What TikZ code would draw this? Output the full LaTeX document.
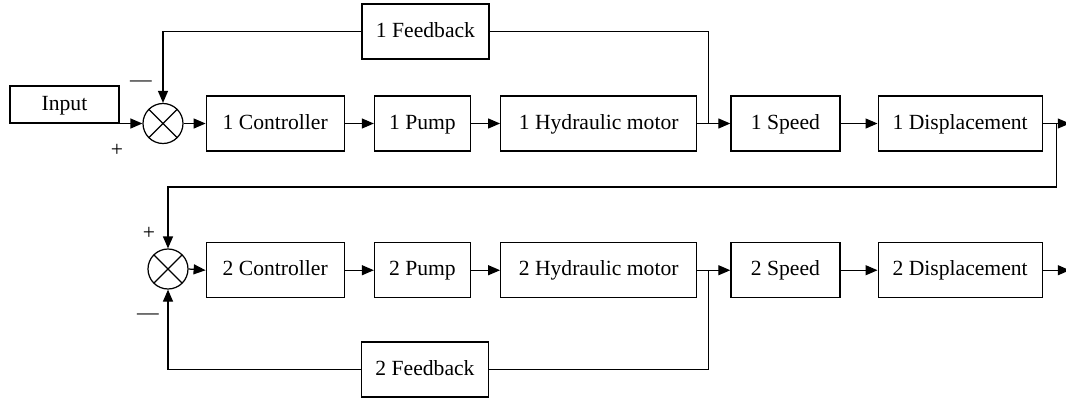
\documentclass[tikz,border=0pt]{standalone}
\usepackage{fontspec}
\setmainfont{Liberation Serif}
\usetikzlibrary{positioning, calc, arrows.meta}

\begin{document}
\begin{tikzpicture}[
    block/.style={rectangle, draw, line width=0.7pt, minimum height=1.10cm,
                  inner sep=2pt, align=center, text height=1.9ex, text depth=0.5ex,
                  font=\fontsize{12.3}{14}\selectfont},
    sumjunc/.style={circle, draw, line width=0.7pt, minimum size=0.8cm, inner sep=0pt,
                    path picture={\draw[line width=0.7pt]
                      (path picture bounding box.north west) -- (path picture bounding box.south east)
                      (path picture bounding box.north east) -- (path picture bounding box.south west);}},
    sgn/.style={inner sep=0pt, font=\fontsize{12.3}{14}\selectfont},
    arr/.style={-{Triangle[length=2.4mm, width=2mm]}, line width=0.7pt},
    wire/.style={line width=0.7pt},
  ]
    \useasboundingbox (0,0) rectangle (21.32,-7.96);

    % Row 1: first loop
    \node[sumjunc] (S1) at (3.26,-2.47) {};
    \node[block, minimum width=2.76cm, right=0.44cm of S1] (C1) {1 Controller};
    \node[block, minimum width=1.92cm, right=0.58cm of C1] (P1) {1 Pump};
    \node[block, minimum width=3.92cm, right=0.58cm of P1] (M1) {1 Hydraulic motor};
    \node[block, minimum width=2.18cm, right=0.66cm of M1] (V1) {1 Speed};
    \node[block, minimum width=3.28cm, right=0.74cm of V1] (D1) {1 Displacement};
    \node[block, minimum width=2.54cm] (F1) at (8.51,-0.63) {1 Feedback};
    \node[block, minimum width=2.18cm, minimum height=0.74cm] (IN) at (1.29,-2.09) {Input};

    % Row 2: second loop
    \node[sumjunc] (S2) at (3.36,-5.38) {};
    \node[block, minimum width=2.76cm, below=1.81cm of C1] (C2) {2 Controller};
    \node[block, minimum width=1.92cm, below=1.81cm of P1] (P2) {2 Pump};
    \node[block, minimum width=3.92cm, below=1.81cm of M1] (M2) {2 Hydraulic motor};
    \node[block, minimum width=2.18cm, below=1.81cm of V1] (V2) {2 Speed};
    \node[block, minimum width=3.28cm, below=1.81cm of D1] (D2) {2 Displacement};
    \node[block, minimum width=2.54cm] (F2) at (8.50,-7.39) {2 Feedback};

    % Signs at the summing points
    \node[sgn] (S1minus) at (2.82,-1.68) {\textemdash};
    \node[sgn] (S1plus) at (2.34,-3.00) {+};
    \node[sgn] (S2plus) at (2.98,-4.66) {+};
    \node[sgn] (S2minus) at (2.96,-6.34) {\textemdash};

    % Branch points
    \coordinate (J1) at ($(M1.east)!0.34!(V1.west)$);
    \coordinate (J2) at ($(M2.east)!0.34!(V2.west)$);
    \coordinate (B1) at ($(D1.east)+(0.28,0)$);
    \coordinate (O1) at ($(D1.east)+(0.54,0)$);
    \coordinate (O2) at ($(D2.east)+(0.54,0)$);
    \coordinate (R1) at ($(B1)+(0,-1.27)$);

    % Forward paths
    \draw[arr] (IN.south west |- S1.west) -- (S1.west);
    \foreach \i in {1,2} {
      \draw[arr] (S\i.east) -- (C\i.west);
      \draw[arr] (C\i.east) -- (P\i.west);
      \draw[arr] (P\i.east) -- (M\i.west);
      \draw[arr] (M\i.east) -- (V\i.west);
      \draw[arr] (V\i.east) -- (D\i.west);
      \draw[arr] (D\i.east) -- (O\i);
    }

    % Feedback loops
    \draw[wire] (J1) |- (F1.east);
    \draw[arr] (F1.west) -| (S1.north);
    \draw[wire] (J2) |- (F2.east);
    \draw[arr] (F2.west) -| (S2.south);

    % Displacement of loop 1 into loop 2
    \draw[arr] (B1) -- (R1) -| (S2.north);
  \end{tikzpicture}
\end{document}
